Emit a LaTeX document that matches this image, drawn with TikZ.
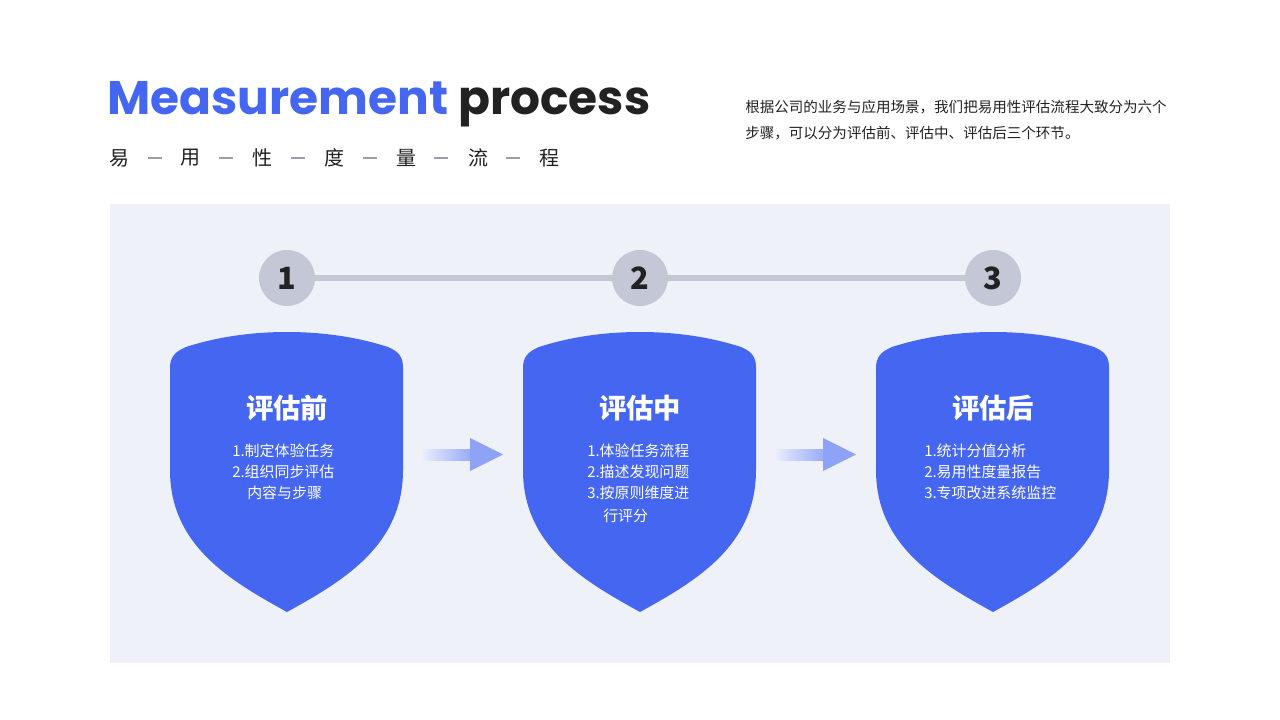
\documentclass[tikz,border=0pt]{standalone}
\usepackage{fontspec}
\setmainfont{Noto Sans CJK SC}
\newfontfamily\cjk{Noto Sans CJK SC}
\newfontfamily\pop{Poppins}
\definecolor{blue1}{HTML}{4466F0}
\definecolor{panel}{HTML}{EEF1F8}
\definecolor{grey1}{HTML}{C3C7D6}
\definecolor{dark}{HTML}{222222}
\begin{document}
\begin{tikzpicture}[x=0.75pt,y=-0.75pt,
  shield/.style={fill=blue1,draw=none},
  stepnum/.style={circle,fill=grey1,minimum size=42pt,inner sep=0pt,font=\cjk\bfseries\fontsize{23}{23}\selectfont,text=dark},
  stitle/.style={text=white,font=\cjk\bfseries\fontsize{20.5}{20.5}\selectfont},
  item/.style={anchor=west,text=white,font=\cjk\fontsize{11.2}{11.2}\selectfont,inner sep=0pt},
  subch/.style={font=\cjk\fontsize{15}{15}\selectfont,text=dark},
  sepline/.style={draw=grey1!80!black,line width=0.8pt}]
\useasboundingbox (0,0) rectangle (1280,720);
\fill[white] (0,0) rectangle (1280,720);
\fill[panel] (110,204) rectangle (1170,663);
% title
\node[anchor=base west,inner sep=0pt,font=\pop\bfseries\fontsize{35.3}{35.3}\selectfont] (title) at (107,115) {\textcolor{blue1}{Measurement} \textcolor{dark}{process}};
\foreach \c/\x [count=\i] in {易/119,用/190,性/262,度/334,量/406,流/478,程/549}{
  \node[subch] (s\i) at (\x,158) {\c};
}
\foreach \i in {1,...,6}{
  \pgfmathsetmacro\xa{119+71.67*\i-43}
  \draw[sepline] (\xa,158) -- ++(14,0);
}
\node[anchor=west,inner sep=0pt,font=\cjk\fontsize{10.9}{10.9}\selectfont,text=dark] (p1) at (745,107) {根据公司的业务与应用场景，我们把易用性评估流程大致分为六个};
\node[anchor=west,inner sep=0pt,font=\cjk\fontsize{10.9}{10.9}\selectfont,text=dark] (p2) at (745,133) {步骤，可以分为评估前、评估中、评估后三个环节。};
% timeline
\node[stepnum] (n1) at (287,278) {1};
\node[stepnum] (n2) at (640,278) {2};
\node[stepnum] (n3) at (993,278) {3};
\draw[grey1,line width=4.5pt] (n1) -- (n2);
\draw[grey1,line width=4.5pt] (n2) -- (n3);
% shields
\foreach \dx in {0,353,706}{
\begin{scope}[xshift=\dx*0.75pt]
\fill[shield] (170,470) -- (170,368) .. controls (170,358) and (174,352) .. (186,347) .. controls (220,336) and (255,332) .. (287,332) .. controls (319,332) and (354,336) .. (388,347) .. controls (400,352) and (403,358) .. (403,368) -- (403,470) .. controls (403,545) and (345,580) .. (287,612) .. controls (229,580) and (170,545) .. (170,470) -- cycle;
\end{scope}}
\node[stitle] (t1) at (287,408) {评估前};
\node[stitle] (t2) at (640,408) {评估中};
\node[stitle] (t3) at (993,408) {评估后};
\node[item] (a1) at (232,451) {1.制定体验任务};
\node[item] (a2) at (232,472) {2.组织同步评估};
\node[item] (a3) at (247,493) {内容与步骤};
\node[item] (b1) at (587,451) {1.体验任务流程};
\node[item] (b2) at (587,472) {2.描述发现问题};
\node[item] (b3) at (587,493) {3.按原则维度进};
\node[item] (b4) at (603,516) {行评分};
\node[item] (c1) at (924,451) {1.统计分值分析};
\node[item] (c2) at (924,472) {2.易用性度量报告};
\node[item] (c3) at (924,493) {3.专项改进系统监控};
% arrows
\foreach \x/\n in {423/ar1,776/ar2}{
  \shade[left color=blue1!12,right color=blue1!55] (\x,449) rectangle (\x+48,460);
  \fill[blue1!60] (\x+47,438) -- (\x+80,454.5) -- (\x+47,471) -- cycle;
  \coordinate (\n) at (\x,454);
}
\end{tikzpicture}
\end{document}
